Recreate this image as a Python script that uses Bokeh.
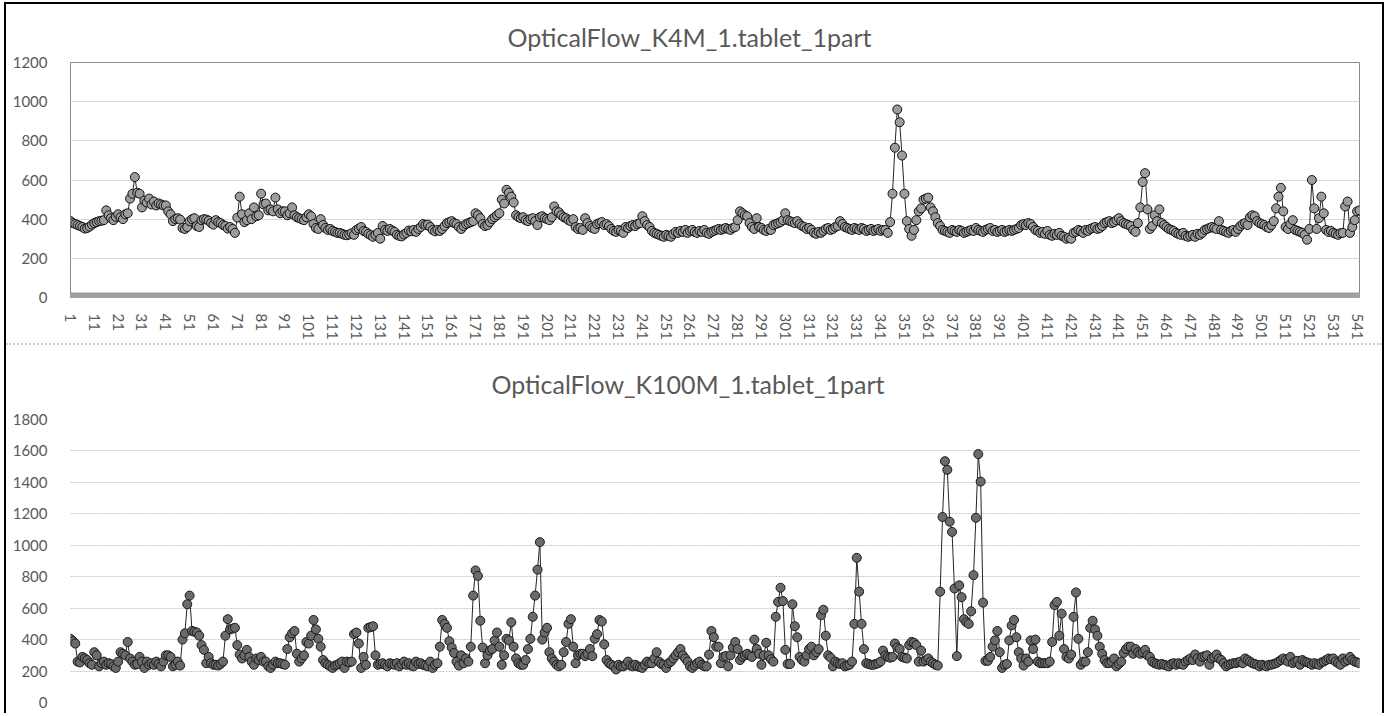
from bokeh.plotting import figure
from bokeh.models import Range1d, FixedTicker
from bokeh.layouts import column
from bokeh.embed import file_html
from bokeh.resources import INLINE

title_k4m = "OpticalFlow_K4M_1.tablet_1part"
title_k100m = "OpticalFlow_K100M_1.tablet_1part"

k4m = [
    390, 380, 375, 370, 365, 360, 352, 355, 362, 372,
    380, 385, 390, 392, 395, 445, 420, 405, 395, 412,
    425, 410, 400, 425, 430, 505, 530, 615, 535, 530,
    460, 495, 485, 505, 475, 490, 470, 480, 475, 470,
    470, 440, 425, 390, 400, 405, 398, 355, 350, 360,
    390, 400, 405, 365, 360, 395, 400, 398, 392, 380,
    372, 395, 385, 380, 370, 365, 352, 360, 350, 330,
    408, 515, 425, 385, 395, 430, 400, 460, 415, 420,
    530, 475, 480, 445, 450, 440, 510, 450, 430, 440,
    440, 420, 430, 460, 420, 410, 405, 400, 395, 410,
    425, 415, 375, 355, 350, 400, 370, 355, 345, 350,
    340, 335, 330, 330, 325, 320, 318, 322, 328, 320,
    345, 352, 360, 340, 335, 325, 318, 310, 320, 330,
    300, 365, 345, 340, 350, 342, 335, 320, 315, 312,
    322, 330, 342, 338, 345, 335, 350, 360, 375, 370,
    372, 360, 345, 338, 345, 340, 350, 365, 380, 385,
    390, 380, 375, 360, 350, 365, 375, 380, 385, 390,
    430, 420, 405, 375, 365, 370, 385, 400, 410, 420,
    430, 500, 480, 550, 535, 515, 485, 420, 410, 405,
    410, 395, 390, 400, 405, 390, 370, 410, 415, 405,
    400, 395, 410, 465, 440, 435, 420, 410, 405, 395,
    390, 400, 360, 350, 355, 345, 405, 380, 365, 355,
    350, 375, 380, 385, 370, 375, 365, 350, 340, 335,
    345, 340, 330, 360, 355, 365, 370, 365, 375, 380,
    415, 390, 370, 360, 340, 330, 325, 320, 315, 310,
    320, 315, 310, 325, 335, 330, 340, 335, 345, 330,
    340, 345, 335, 330, 340, 335, 345, 330, 325, 335,
    340, 345, 350, 345, 350, 355, 350, 345, 355, 360,
    395, 440, 430, 420, 415, 380, 360, 350, 405, 360,
    355, 345, 340, 350, 345, 370, 375, 380, 385, 395,
    430, 395, 390, 385, 380, 390, 375, 365, 360, 350,
    355, 345, 330, 325, 335, 330, 340, 350, 355, 345,
    350, 360, 365, 390, 375, 360, 355, 350, 345, 355,
    350, 345, 355, 350, 340, 345, 350, 340, 345, 350,
    340, 345, 345, 330, 385, 530, 765, 960, 895, 725,
    530, 390, 350, 315, 345, 395, 440, 455, 500, 505,
    510, 460, 440, 410, 380, 365, 345, 340, 335, 330,
    345, 340, 335, 345, 340, 330, 335, 340, 345, 340,
    355, 345, 340, 335, 345, 350, 355, 340, 345, 335,
    340, 345, 335, 340, 345, 340, 345, 350, 355, 370,
    375, 370, 380, 375, 360, 345, 340, 330, 335, 325,
    340, 320, 315, 325, 320, 330, 315, 310, 300, 305,
    300, 330, 335, 345, 340, 330, 345, 340, 350, 355,
    360, 350, 355, 365, 380, 385, 390, 380, 385, 395,
    405, 390, 380, 375, 370, 365, 345, 335, 380, 460,
    590, 635, 450, 350, 365, 420, 390, 450, 380, 370,
    360, 350, 345, 340, 330, 325, 320, 330, 315, 310,
    315, 320, 310, 325, 320, 330, 345, 350, 355, 360,
    355, 350, 390, 345, 340, 335, 330, 340, 345, 335,
    350, 365, 375, 380, 370, 410, 420, 415, 390, 380,
    375, 370, 360, 355, 370, 390, 455, 515, 560, 440,
    360, 350, 375, 395, 345, 340, 335, 330, 320, 295,
    350, 600, 455, 350, 405, 515, 430, 345, 335, 340,
    330, 325, 320, 328, 330, 465, 490, 330, 360, 395,
    440, 445,
]

k100m = [
    405, 390, 375, 260, 255, 290, 280, 270, 250, 240,
    320, 300, 230, 250, 260, 240, 250, 245, 230, 220,
    260, 320, 310, 300, 385, 280, 260, 240, 245, 290,
    260, 220, 260, 240, 250, 240, 260, 245, 230, 260,
    300, 300, 290, 230, 240, 260, 235, 400, 440, 625,
    680, 455, 450, 445, 425, 365, 335, 250, 290, 250,
    240, 240, 235, 245, 260, 425, 530, 465, 470, 475,
    365, 305, 280, 300, 335, 290, 260, 240, 280, 270,
    290, 260, 260, 230, 220, 240, 260, 250, 250, 245,
    240, 340, 415, 440, 455, 310, 260, 280, 300, 385,
    375, 425, 525, 465, 405, 355, 270, 250, 240, 230,
    220, 235, 240, 250, 260, 220, 260, 255, 260, 435,
    445, 375, 220, 290, 240, 475, 480, 485, 300, 240,
    245, 250, 240, 230, 250, 245, 240, 250, 230, 245,
    260, 240, 250, 235, 230, 260, 245, 250, 240, 235,
    230, 260, 220, 240, 250, 355, 525, 500, 475, 390,
    350, 315, 260, 235, 300, 250, 280, 260, 355, 680,
    840, 805, 520, 350, 250, 300, 330, 340, 395, 445,
    355, 240, 300, 405, 395, 510, 355, 280, 250, 240,
    240, 270, 340, 405, 545, 680, 845, 1020, 400, 445,
    475, 320, 280, 260, 240, 230, 240, 320, 385, 500,
    530, 355, 250, 300, 310, 310, 295, 310, 340, 295,
    405, 435, 525, 515, 370, 270, 250, 240, 230, 210,
    240, 230, 230, 240, 260, 235, 230, 240, 230, 225,
    220, 240, 260, 250, 250, 280, 320, 260, 245, 240,
    220, 250, 260, 280, 300, 320, 340, 300, 280, 260,
    230, 220, 235, 250, 260, 240, 230, 230, 305, 455,
    415, 355, 355, 250, 290, 295, 230, 300, 350, 385,
    340, 270, 290, 300, 310, 300, 290, 400, 340, 310,
    240, 300, 380, 300, 275, 260, 545, 640, 730, 645,
    335, 245, 245, 625, 485, 415, 290, 270, 260, 300,
    340, 355, 300, 320, 340, 555, 590, 425, 300, 285,
    230, 260, 250, 245, 250, 230, 235, 240, 260, 500,
    920, 705, 500, 340, 250, 245, 240, 240, 245, 250,
    260, 330, 300, 290, 285, 290, 375, 350, 340, 290,
    285, 280, 365, 385, 380, 365, 260, 330, 260, 270,
    280, 260, 250, 240, 235, 705, 1180, 1535, 1480, 1150,
    1085, 725, 295, 745, 670, 530, 510, 500, 580, 810,
    1175, 1580, 1405, 635, 265, 265, 290, 355, 395, 455,
    320, 220, 240, 245, 395, 490, 525, 415, 320, 280,
    235, 280, 260, 395, 340, 400, 260, 250, 250, 250,
    250, 260, 385, 620, 640, 425, 565, 340, 290, 280,
    305, 545, 700, 405, 240, 260, 260, 320, 475, 520,
    465, 425, 355, 310, 270, 250, 250, 260, 280, 230,
    245, 260, 315, 340, 355, 355, 310, 340, 320, 310,
    320, 335, 300, 290, 260, 250, 245, 240, 245, 240,
    235, 230, 245, 250, 240, 250, 245, 240, 260, 270,
    280, 270, 305, 280, 260, 290, 295, 300, 240, 280,
    290, 305, 280, 270, 250, 230, 240, 245, 250, 250,
    255, 260, 250, 280, 270, 260, 250, 245, 240, 230,
    240, 235, 230, 240, 240, 245, 250, 260, 270, 280,
    270, 260, 290, 250, 260, 265, 240, 270, 260, 255,
    250, 240, 250, 245, 240, 255, 260, 270, 280, 275,
    280, 260, 250, 240, 280, 260, 270, 290, 270, 260,
    255, 250,
]

frames = list(range(1, len(k4m) + 1))
zero_series = [0] * len(k4m)
x_tick_values = list(range(1, 542, 10))
x_tick_labels = [str(v) for v in x_tick_values]
y_ticks_k4m = [0, 200, 400, 600, 800, 1000, 1200]
y_ticks_k100m = [0, 200, 400, 600, 800, 1000, 1200, 1400, 1600, 1800]

FONT = "Lato"
TXT = "#595959"


def style_common(p, ticks, title_offset, title_standoff):
    p.yaxis.ticker = FixedTicker(ticks=ticks)
    p.ygrid.ticker = FixedTicker(ticks=ticks)
    p.yaxis.axis_line_color = None
    p.yaxis.major_tick_line_color = None
    p.yaxis.minor_tick_line_color = None
    p.yaxis.major_label_text_font = FONT
    p.yaxis.major_label_text_font_size = "15px"
    p.yaxis.major_label_text_color = TXT
    p.yaxis.major_label_standoff = 17
    p.xgrid.visible = False
    p.background_fill_color = "white"
    p.border_fill_color = "white"
    p.title.align = "left"
    p.title.offset = title_offset
    p.title.standoff = title_standoff
    p.title.text_font = FONT
    p.title.text_font_size = "25px"
    p.title.text_font_style = "normal"
    p.title.text_color = TXT


# ---------- top chart ----------
p1 = figure(width=1376, height=341, x_range=Range1d(1, 542), y_range=Range1d(0, 1200),
            title=title_k4m, output_backend="svg", toolbar_location=None,
            min_border_left=62, min_border_right=16, min_border_top=58, min_border_bottom=48)
style_common(p1, y_ticks_k4m, 437, 22)
p1.outline_line_color = "#8a8a8a"
p1.outline_line_width = 1
p1.ygrid.grid_line_color = "#d9d9d9"
p1.ygrid.grid_line_width = 1
p1.xaxis.ticker = FixedTicker(ticks=x_tick_values)
p1.xaxis.major_label_overrides = dict(zip(x_tick_values, x_tick_labels))
p1.xaxis.major_label_orientation = "vertical"
p1.xaxis.axis_line_color = None
p1.xaxis.major_tick_line_color = None
p1.xaxis.minor_tick_line_color = None
p1.xaxis.major_label_text_font = FONT
p1.xaxis.major_label_text_font_size = "15px"
p1.xaxis.major_label_text_color = TXT
p1.xaxis.major_label_standoff = 10

p1.line(frames, zero_series, line_color="#a3a3a3", line_width=3)
p1.scatter(frames, zero_series, size=9, fill_color="#a6a6a6", line_color="#999999", line_width=1)
p1.line(frames, k4m, line_color="#262626", line_width=1)
p1.scatter(frames, k4m, size=9, fill_color="#9c9c9c", line_color="#111111", line_width=1)

# ---------- bottom chart ----------
p2 = figure(width=1376, height=368, x_range=Range1d(1, 542), y_range=Range1d(0, 1800),
            title=title_k100m, output_backend="svg", toolbar_location=None,
            min_border_left=64, min_border_right=23, min_border_top=73, min_border_bottom=11)
style_common(p2, y_ticks_k100m, 421, 42)
p2.outline_line_color = None
p2.ygrid.grid_line_color = "#c8c8c8"
p2.ygrid.grid_line_dash = "2 1"
p2.ygrid.grid_line_width = 1
p2.xaxis.visible = False

p2.line(frames, k100m, line_color="#262626", line_width=1)
p2.scatter(frames, k100m, size=9, fill_color="#6b6b6b", line_color="#1a1a1a", line_width=1)

p1.styles = {"border-bottom": "2px dotted #cfcfcf"}

layout = column(p1, p2, styles={"margin-left": "4px", "margin-top": "2px",
                                "border-top": "2px solid black", "border-left": "2px solid black",
                                "border-right": "2px solid black"})

open("out.html", "w").write(file_html(layout, INLINE))
